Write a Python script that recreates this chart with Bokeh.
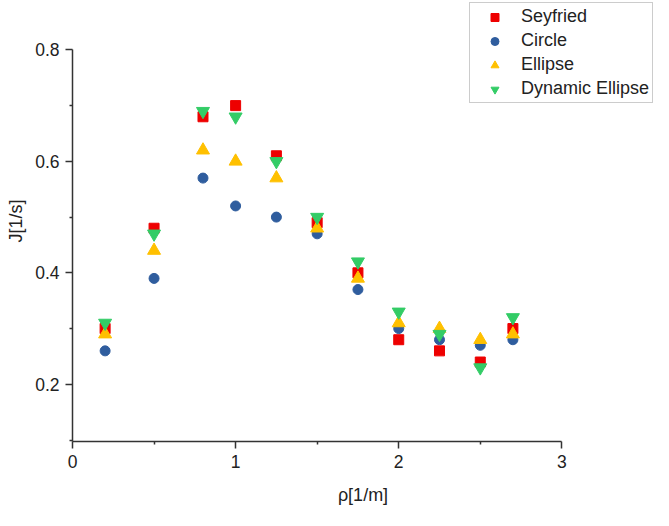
from bokeh.plotting import figure
from bokeh.models import FixedTicker, Range1d, Legend, LegendItem, ColumnDataSource
from bokeh.embed import file_html
from bokeh.resources import INLINE

# ---- data ----
rho = [0.2, 0.5, 0.8, 1.0, 1.25, 1.5, 1.75, 2.0, 2.25, 2.5, 2.7]
seyfried = [0.30, 0.48, 0.68, 0.70, 0.61, 0.49, 0.40, 0.28, 0.26, 0.24, 0.30]
circle = [0.26, 0.39, 0.57, 0.52, 0.50, 0.47, 0.37, 0.30, 0.28, 0.27, 0.28]
ellipse = [0.29, 0.44, 0.62, 0.60, 0.57, 0.48, 0.39, 0.31, 0.30, 0.28, 0.29]
dynamic_ellipse = [0.31, 0.47, 0.69, 0.68, 0.60, 0.50, 0.42, 0.33, 0.29, 0.23, 0.32]
x_ticks = [0, 1, 2, 3]
x_minor = [0.5, 1.5, 2.5]
y_ticks = [0.2, 0.4, 0.6, 0.8]
y_minor = [0.1, 0.3, 0.5, 0.7]
x_bounds = (0, 3)
y_bounds = (0.0974, 0.8)

FONT = "Liberation Sans"
TXT = "#222222"

# frame spans to the right/top edges so the legend is not clipped;
# axis lines are limited to the data bounds
p = figure(width=653, height=510, output_backend="svg", toolbar_location=None,
           x_range=Range1d(0, 3.562), y_range=Range1d(0.0974, 0.8886),
           min_border_left=72, min_border_right=0, min_border_top=0, min_border_bottom=69)
p.outline_line_color = None
p.grid.visible = False
p.background_fill_color = "white"
p.border_fill_color = "white"

src = ColumnDataSource(dict(x=rho, s=seyfried, c=circle, e=ellipse, d=dynamic_ellipse))
r1 = p.scatter("x", "s", source=src, marker="square", size=10, color="#EE0000")
r2 = p.scatter("x", "c", source=src, marker="circle", size=10, color="#2F5D9E")
r3 = p.scatter("x", "e", source=src, marker="triangle", size=13, color="#FFC000")
r4 = p.scatter("x", "d", source=src, marker="inverted_triangle", size=13, color="#33CC66")

for ax in (p.xaxis[0], p.yaxis[0]):
    ax.axis_line_color = "#333333"
    ax.axis_line_width = 1.5
    ax.major_tick_line_color = "#333333"
    ax.major_tick_line_width = 1.5
    ax.minor_tick_line_color = "#333333"
    ax.minor_tick_line_width = 1.5
    ax.major_tick_out = 7
    ax.major_tick_in = 0
    ax.minor_tick_out = 3
    ax.minor_tick_in = 0
    ax.major_label_text_font = FONT
    ax.major_label_text_font_size = "17.5px"
    ax.major_label_text_color = TXT
    ax.axis_label_text_font = FONT
    ax.axis_label_text_font_size = "18px"
    ax.axis_label_text_font_style = "normal"
    ax.axis_label_text_color = TXT

p.xaxis.bounds = x_bounds
p.yaxis.bounds = y_bounds
p.xaxis.ticker = FixedTicker(ticks=x_ticks, minor_ticks=x_minor)
p.yaxis.ticker = FixedTicker(ticks=y_ticks, minor_ticks=y_minor)
p.xaxis.major_label_overrides = {t: str(t) for t in x_ticks}
p.xaxis.axis_label = "ρ[1/m]"
p.yaxis.axis_label = "J[1/s]"
p.xaxis.major_label_standoff = 6
p.yaxis.major_label_standoff = 6
p.xaxis.axis_label_standoff = 14
p.yaxis.axis_label_standoff = 6

legend = Legend(items=[
    LegendItem(label="Seyfried", renderers=[r1]),
    LegendItem(label="Circle", renderers=[r2]),
    LegendItem(label="Ellipse", renderers=[r3]),
    LegendItem(label="Dynamic Ellipse", renderers=[r4]),
], location=(397, 338))
legend.border_line_color = "#999999"
legend.border_line_width = 1
legend.background_fill_alpha = 1
legend.padding = 3
legend.spacing = 3
legend.margin = 0
legend.glyph_width = 43
legend.glyph_height = 20
legend.label_height = 20
legend.label_standoff = 5
legend.label_text_font = FONT
legend.label_text_font_size = "18px"
legend.label_text_color = TXT
p.add_layout(legend, "center")

open("out.html", "w").write(file_html(p, INLINE))
